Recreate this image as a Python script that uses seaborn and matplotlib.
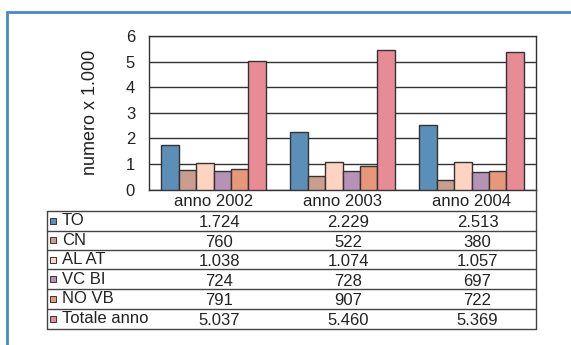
import matplotlib
matplotlib.use("Agg")
import matplotlib.pyplot as plt
from matplotlib.lines import Line2D
from matplotlib.patches import Rectangle
import seaborn as sns
import pandas as pd

# Data (counts per area and year)
years = ["anno 2002", "anno 2003", "anno 2004"]
series = ["TO", "CN", "AL AT", "VC BI", "NO VB", "Totale anno"]
to_vals = [1724, 2229, 2513]
cn_vals = [760, 522, 380]
alat_vals = [1038, 1074, 1057]
vcbi_vals = [724, 728, 697]
novb_vals = [791, 907, 722]
tot_vals = [5037, 5460, 5369]
colors = ["#5b8fb8", "#c99e8e", "#fdd3c1", "#b592b6", "#e8987a", "#e78b95"]

all_vals = [to_vals, cn_vals, alat_vals, vcbi_vals, novb_vals, tot_vals]
rows = []
for name, vals in zip(series, all_vals):
    for y, v in zip(years, vals):
        rows.append({"anno": y, "serie": name, "valore": v / 1000})
df = pd.DataFrame(rows)

sns.set_theme(style="white")
plt.rcParams["font.family"] = ["Liberation Sans", "DejaVu Sans"]

W, H = 571, 345
fig = plt.figure(figsize=(W / 100, H / 100), dpi=100)
fig.patch.set_facecolor("white")


def fx(x):
    return x / W


def fy(y):
    return 1 - y / H


ax_l, ax_r, ax_t, ax_b = 149, 536, 36, 189.5
ax = fig.add_axes([fx(ax_l), fy(ax_b), (ax_r - ax_l) / W, (ax_b - ax_t) / H])

sns.barplot(data=df, x="anno", y="valore", hue="serie", palette=colors,
            saturation=1, width=0.81, edgecolor="#333333", linewidth=1.0,
            ax=ax, legend=False, zorder=3)

ax.set_ylim(0, 6)
ax.set_yticks(range(0, 7))
ax.yaxis.grid(True, color="#333333", linewidth=1.0, zorder=0)
ax.set_axisbelow(True)
ax.set_xticks([])
ax.set_xlabel("")
ax.set_ylabel("numero x 1.000", fontsize=13, color="#222222", labelpad=19)
ax.tick_params(axis="y", labelsize=12, colors="#222222", length=0, pad=10)
for s in ax.spines.values():
    s.set_color("#333333")
    s.set_linewidth(1.0)

# Data table below the chart
tab_l = 47
col_w = (ax_r - ax_l) / 3
row_lines = [211, 230.5, 250, 269, 289, 308.5, 329]
line_kw = dict(color="#444444", linewidth=1.0)

for i, y in enumerate(years):
    cx = ax_l + col_w * (i + 0.5)
    fig.text(fx(cx), fy(202), y, ha="center", va="center",
             fontsize=12, color="#222222")

for y in row_lines:
    fig.add_artist(Line2D([fx(tab_l), fx(ax_r)], [fy(y), fy(y)], **line_kw))
fig.add_artist(Line2D([fx(tab_l), fx(tab_l)], [fy(row_lines[0]), fy(row_lines[-1])], **line_kw))
fig.add_artist(Line2D([fx(ax_r), fx(ax_r)], [fy(ax_b), fy(row_lines[-1])], **line_kw))


def fmt(v):
    return f"{v:,}".replace(",", ".")


for r, (name, vals, col) in enumerate(zip(series, all_vals, colors)):
    y0, y1 = row_lines[r], row_lines[r + 1]
    cy = (y0 + y1) / 2
    fig.add_artist(Rectangle((fx(50), fy(cy + 3)), 6 / W, 6 / H,
                             facecolor=col, edgecolor="#333333", linewidth=0.7))
    fig.text(fx(62), fy(cy), name, ha="left", va="center",
             fontsize=12, color="#222222")
    for i, v in enumerate(vals):
        cx = ax_l + col_w * (i + 0.5) + 6
        fig.text(fx(cx), fy(cy + 2), fmt(v), ha="center", va="center",
                 fontsize=12, color="#222222")

# Blue frame
frame_kw = dict(color="#4a8ac4", linewidth=2.0)
fig.add_artist(Line2D([fx(6.5), 1], [fy(12), fy(12)], **frame_kw))
fig.add_artist(Line2D([fx(6.5), fx(6.5)], [fy(12), 0], **frame_kw))

fig.savefig("out.png", dpi=100)
